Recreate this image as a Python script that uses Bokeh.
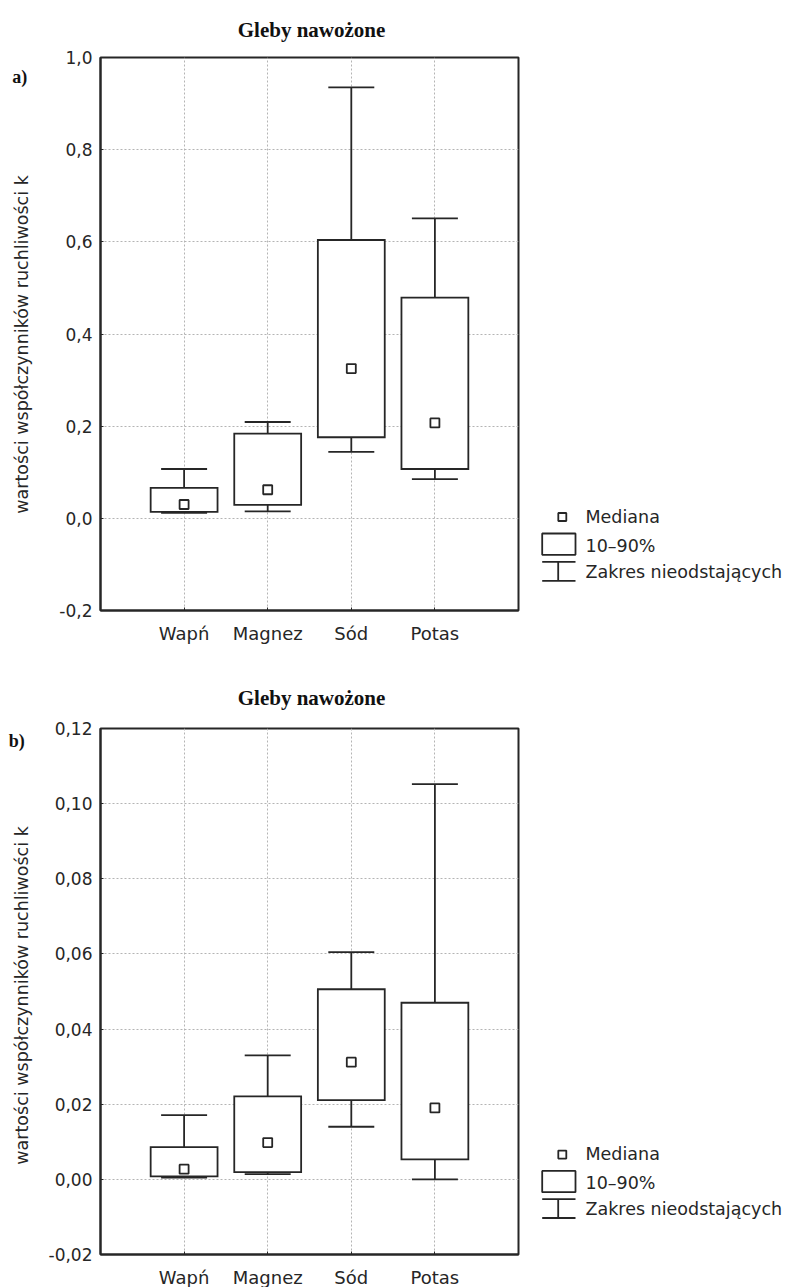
import math

from bokeh.plotting import figure
from bokeh.models import ColumnDataSource, Range1d, FixedTicker, CustomJSTickFormatter
from bokeh.layouts import column, row
from bokeh.embed import file_html
from bokeh.resources import INLINE
from bokeh.core.properties import value

# ---- data -------------------------------------------------------------
categories = ["Wapń", "Magnez", "Sód", "Potas"]

# panel a)
a_low = [0.012, 0.015, 0.144, 0.085]
a_p10 = [0.014, 0.029, 0.176, 0.107]
a_median = [0.030, 0.062, 0.325, 0.207]
a_p90 = [0.066, 0.184, 0.604, 0.479]
a_high = [0.107, 0.209, 0.935, 0.651]
a_ticks = [-0.2, 0.0, 0.2, 0.4, 0.6, 0.8, 1.0]

# panel b)
b_low = [0.0005, 0.0014, 0.0140, 0.0000]
b_p10 = [0.0008, 0.0019, 0.0211, 0.0053]
b_median = [0.0027, 0.0098, 0.0312, 0.0190]
b_p90 = [0.0086, 0.0221, 0.0506, 0.0470]
b_high = [0.0171, 0.0330, 0.0605, 0.1052]
b_ticks = [-0.02, 0.0, 0.02, 0.04, 0.06, 0.08, 0.10, 0.12]

title_text = "Gleby nawożone"
y_title = "wartości współczynników ruchliwości k"
legend_labels = ["Mediana", "10–90%", "Zakres nieodstających"]

# ---- style / page geometry (page pixels, y measured downwards) ------------
PAGE_W = 789
INK = "#262626"
GRID = "#b4b4b4"
SANS = "DejaVu Sans"
SERIF = "Liberation Serif"
STRIP_W = 40          # column holding the panel tag and the y title
BORDER_L = 60         # room for the tick labels
FRAME_W = 418
BORDER_R = 12
MAIN_W = BORDER_L + FRAME_W + BORDER_R
LEG_X0 = STRIP_W + MAIN_W
BOX_W = 0.8
CAP_W = 0.55
LW = 1.8


def blank(width, height, x_range, y_range):
    f = figure(width=width, height=height, x_range=x_range, y_range=y_range,
               title=None, min_border=0, min_border_left=0, min_border_right=0,
               min_border_top=0, min_border_bottom=0,
               toolbar_location=None, output_backend="svg",
               x_axis_type=None, y_axis_type=None, outline_line_color=None,
               background_fill_color="white", border_fill_color="white")
    f.grid.visible = False
    return f


def header(top, bottom, baseline):
    # y range expressed as negated page y so that the axis is not flipped
    h = blank(PAGE_W, bottom - top, Range1d(0, PAGE_W), Range1d(-bottom, -top))
    h.text(x=[STRIP_W + BORDER_L + FRAME_W / 2 + 2], y=[-baseline],
           text=[title_text], text_align="center", text_baseline="alphabetic",
           text_font=value(SERIF), text_font_style="bold",
           text_font_size=value("21px"), text_color="#111111")
    return h


def side_strip(tag, height, frame_top, frame_bottom, tag_x, tag_baseline, title_center):
    # within a row the frames line up, so the range spans the main frame
    s = blank(STRIP_W, height, Range1d(0, STRIP_W), Range1d(-frame_bottom, -frame_top))
    s.text(x=[tag_x], y=[-tag_baseline], text=[tag],
           text_align="left", text_baseline="alphabetic",
           text_font=value(SERIF), text_font_style="bold",
           text_font_size=value("18px"), text_color="#111111")
    s.text(x=[21.7], y=[-title_center], text=[y_title], angle=math.pi / 2,
           text_align="center", text_baseline="middle",
           text_font=value(SANS), text_font_size=value("17.5px"), text_color=INK)
    return s


def box_panel(low, p10, med, p90, high, ticks, decimals, frame_h, top, bottom):
    n = len(categories)
    xs = list(range(1, n + 1))
    p = figure(width=MAIN_W, height=top + frame_h + bottom,
               frame_width=FRAME_W, frame_height=frame_h,
               x_range=Range1d(0, n + 1), y_range=Range1d(ticks[0], ticks[-1]),
               title=None,
               min_border_left=BORDER_L, min_border_right=BORDER_R,
               min_border_top=top, min_border_bottom=bottom,
               output_backend="svg", toolbar_location=None,
               background_fill_color="white", border_fill_color="white",
               outline_line_color=INK, outline_line_width=2)

    p.xaxis.ticker = FixedTicker(ticks=xs)
    p.xaxis.major_label_overrides = {i: c for i, c in zip(xs, categories)}
    p.yaxis.ticker = FixedTicker(ticks=ticks)
    p.yaxis.formatter = CustomJSTickFormatter(
        code="return tick.toFixed(%d).replace('.', ',');" % decimals)
    for ax in (p.xaxis[0], p.yaxis[0]):
        ax.axis_line_color = INK
        ax.axis_line_width = 2
        ax.major_tick_line_color = INK
        ax.major_tick_in = 3
        ax.major_tick_out = 0
        ax.minor_tick_line_color = None
        ax.major_label_text_font = SANS
        ax.major_label_text_color = INK
    p.xaxis.major_label_text_font_size = "18px"
    p.xaxis.major_label_standoff = 12
    p.yaxis.major_label_text_font_size = "17px"
    p.yaxis.major_label_standoff = 8

    for g in (p.xgrid[0], p.ygrid[0]):
        g.grid_line_color = GRID
        g.grid_line_dash = "2 2"
        g.grid_line_width = 1

    src = ColumnDataSource(dict(
        x=xs, low=low, p10=p10, med=med, p90=p90, high=high,
        bl=[v - BOX_W / 2 for v in xs], br=[v + BOX_W / 2 for v in xs],
        cl=[v - CAP_W / 2 for v in xs], cr=[v + CAP_W / 2 for v in xs]))

    seg = dict(source=src, line_color=INK, line_width=LW)
    # non-outlier range: stems and caps
    p.segment(x0="x", y0="p90", x1="x", y1="high", **seg)
    p.segment(x0="x", y0="low", x1="x", y1="p10", **seg)
    p.segment(x0="cl", y0="high", x1="cr", y1="high", **seg)
    p.segment(x0="cl", y0="low", x1="cr", y1="low", **seg)
    # 10-90% boxes
    p.quad(left="bl", right="br", bottom="p10", top="p90", source=src,
           fill_color="white", line_color=INK, line_width=LW, line_join="miter")
    # medians
    p.scatter("x", "med", source=src, marker="square", size=9,
              fill_color="white", line_color=INK, line_width=LW)
    return p


def legend_panel(height, frame_top, frame_bottom, r0):
    lg = blank(PAGE_W - LEG_X0, height, Range1d(LEG_X0, PAGE_W),
               Range1d(-frame_bottom, -frame_top))
    lg.scatter([561.8], [-(r0 + 0.5)], marker="square", size=8,
               fill_color="white", line_color=INK, line_width=LW)
    lg.quad(left=[541.7], right=[575], top=[-(r0 + 17)], bottom=[-(r0 + 38.3)],
            fill_color="white", line_color=INK, line_width=LW)
    lg.segment(x0=[541.7, 541.7, 557.7],
               y0=[-(r0 + 45.3), -(r0 + 64.3), -(r0 + 45.3)],
               x1=[575, 575, 557.7],
               y1=[-(r0 + 45.3), -(r0 + 64.3), -(r0 + 64.3)],
               line_color=INK, line_width=LW)
    lg.text(x=[585] * 3, y=[-r0, -(r0 + 29), -(r0 + 55)], text=legend_labels,
            text_font=value(SANS), text_font_size=value("17.5px"),
            text_baseline="middle", text_align="left", text_color=INK)
    return lg


# panel a): header 0-45, plot row 45-655, frame 57-610
head_a = header(0, 45, 29.3)
main_a = box_panel(a_low, a_p10, a_median, a_p90, a_high, a_ticks, 1,
                   frame_h=553, top=12, bottom=45)
strip_a = side_strip("a)", 610, 57, 610, 11.7, 76, 344)
leg_a = legend_panel(610, 57, 610, 516)

# panel b): header 655-716, plot row 716-1287, frame 728-1254
head_b = header(655, 716, 697.5)
main_b = box_panel(b_low, b_p10, b_median, b_p90, b_high, b_ticks, 2,
                   frame_h=526, top=12, bottom=33)
strip_b = side_strip("b)", 571, 728, 1254, 8.3, 741, 996.5)
leg_b = legend_panel(571, 728, 1254, 1156)

layout = column(head_a, row(strip_a, main_a, leg_a),
                head_b, row(strip_b, main_b, leg_b))

open("out.html", "w").write(file_html(layout, INLINE))
